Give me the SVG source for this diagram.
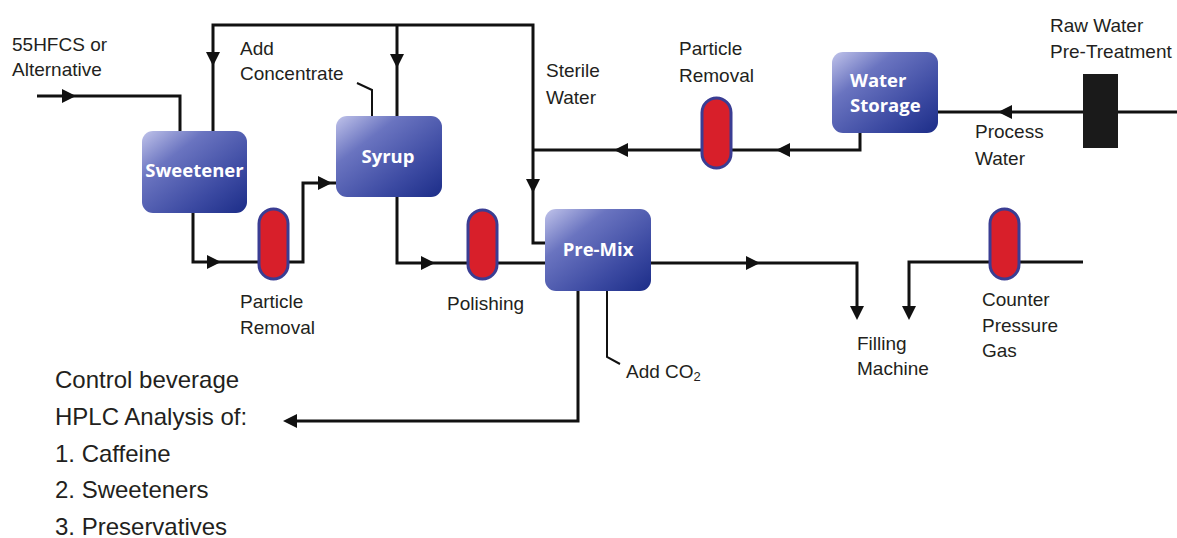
<svg xmlns="http://www.w3.org/2000/svg" width="1177" height="538" viewBox="0 0 1177 538">
<defs>
<linearGradient id="boxg" x1="0" y1="0" x2="1" y2="1">
<stop offset="0" stop-color="#c0c3ea"/>
<stop offset="0.3" stop-color="#6a74c0"/>
<stop offset="0.7" stop-color="#3c4aa2"/>
<stop offset="1" stop-color="#1c2d88"/>
</linearGradient>
<style>
.box{fill:url(#boxg);}
.bt{font-family:"Open Sans","Liberation Sans",sans-serif;font-weight:bold;font-size:18.5px;fill:#fff;}
.lbl{font-family:"Liberation Sans",Arial,sans-serif;font-size:19px;fill:#231f20;}
.big{font-family:"Liberation Sans",Arial,sans-serif;font-size:24px;fill:#231f20;}
.ln{fill:none;stroke:#111;stroke-width:3;}
.ar{fill:#111;}
.ves{fill:#d81f2a;stroke:#3a3d93;stroke-width:3;}
</style>
</defs>
<g id="connectors">
<polyline class="ln" points="37,96 180,96 180,131"/>
<polyline class="ln" points="213,131 213,25 533,25 533,243 545,243"/>
<line class="ln" x1="397" y1="25" x2="397" y2="116"/>
<polyline class="ln" points="357,83 372,90 372,116" style="stroke-width:2"/>
<polyline class="ln" points="860,133 860,150 533,150"/>
<line class="ln" x1="938" y1="112" x2="1177" y2="112"/>
<polyline class="ln" points="193,213 193,262 303,262 303,183 336,183"/>
<polyline class="ln" points="397,197 397,263 545,263"/>
<polyline class="ln" points="651,263 857,263 857,316"/>
<polyline class="ln" points="1083,262 909,262 909,316"/>
<polyline class="ln" points="578,291 578,421 290,421"/>
<polyline class="ln" points="607,291 607,357 620,364" style="stroke-width:2"/>
<path class="ar" d="M62,89 L76,96 L62,103 Z"/>
<path class="ar" d="M206,52 L220,52 L213,66 Z"/>
<path class="ar" d="M390,54 L404,54 L397,68 Z"/>
<path class="ar" d="M526,179 L540,179 L533,193 Z"/>
<path class="ar" d="M628,143 L614,150 L628,157 Z"/>
<path class="ar" d="M790,143 L776,150 L790,157 Z"/>
<path class="ar" d="M1012,105 L998,112 L1012,119 Z"/>
<path class="ar" d="M207,255 L221,262 L207,269 Z"/>
<path class="ar" d="M318,176 L332,183 L318,190 Z"/>
<path class="ar" d="M421,256 L435,263 L421,270 Z"/>
<path class="ar" d="M746,256 L760,263 L746,270 Z"/>
<path class="ar" d="M850,306 L864,306 L857,320 Z"/>
<path class="ar" d="M902,306 L916,306 L909,320 Z"/>
<path class="ar" d="M297,414 L283,421 L297,428 Z"/>
</g>
<g id="sweetener">
<rect class="box" x="142" y="131" width="105" height="82" rx="11"/>
<text class="bt" x="194.5" y="177" text-anchor="middle">Sweetener</text>
</g>
<g id="syrup">
<rect class="box" x="336" y="116" width="106" height="81" rx="11"/>
<text class="bt" x="388" y="163" text-anchor="middle">Syrup</text>
</g>
<g id="premix">
<rect class="box" x="545" y="209" width="106" height="82" rx="11"/>
<text class="bt" x="598" y="256" text-anchor="middle">Pre-Mix</text>
</g>
<g id="water-storage">
<rect class="box" x="832" y="52" width="106" height="81" rx="11"/>
<text class="bt" x="850" y="87">Water</text>
<text class="bt" x="850" y="112">Storage</text>
</g>
<g id="raw-water-pretreatment">
<rect x="1083" y="74" width="35" height="74" fill="#1a1a1a"/>
</g>
<g id="particle-removal-1">
<rect class="ves" x="259" y="209" width="29" height="70" rx="14.5"/>
</g>
<g id="polishing">
<rect class="ves" x="468" y="210" width="29" height="69" rx="14.5"/>
</g>
<g id="particle-removal-2">
<rect class="ves" x="702" y="98" width="29" height="70" rx="14.5"/>
</g>
<g id="counter-pressure-vessel">
<rect class="ves" x="990" y="209" width="29" height="70" rx="14.5"/>
</g>
<g id="labels">
<text class="lbl" x="12" y="51">55HFCS or</text>
<text class="lbl" x="12" y="76">Alternative</text>
<text class="lbl" x="240" y="55">Add</text>
<text class="lbl" x="240" y="80">Concentrate</text>
<text class="lbl" x="546" y="77">Sterile</text>
<text class="lbl" x="546" y="104">Water</text>
<text class="lbl" x="679" y="55">Particle</text>
<text class="lbl" x="679" y="82">Removal</text>
<text class="lbl" x="1050" y="32">Raw Water</text>
<text class="lbl" x="1050" y="58">Pre-Treatment</text>
<text class="lbl" x="975" y="138">Process</text>
<text class="lbl" x="975" y="165">Water</text>
<text class="lbl" x="240" y="308">Particle</text>
<text class="lbl" x="240" y="334">Removal</text>
<text class="lbl" x="447" y="310">Polishing</text>
<text class="lbl" x="626" y="378">Add CO<tspan font-size="13" dy="3">2</tspan></text>
<text class="lbl" x="857" y="350">Filling</text>
<text class="lbl" x="857" y="375">Machine</text>
<text class="lbl" x="982" y="306">Counter</text>
<text class="lbl" x="982" y="332">Pressure</text>
<text class="lbl" x="982" y="357">Gas</text>
<text class="big" x="55" y="388">Control beverage</text>
<text class="big" x="55" y="425">HPLC Analysis of:</text>
<text class="big" x="55" y="462">1. Caffeine</text>
<text class="big" x="55" y="498">2. Sweeteners</text>
<text class="big" x="55" y="535">3. Preservatives</text>
</g>
</svg>
